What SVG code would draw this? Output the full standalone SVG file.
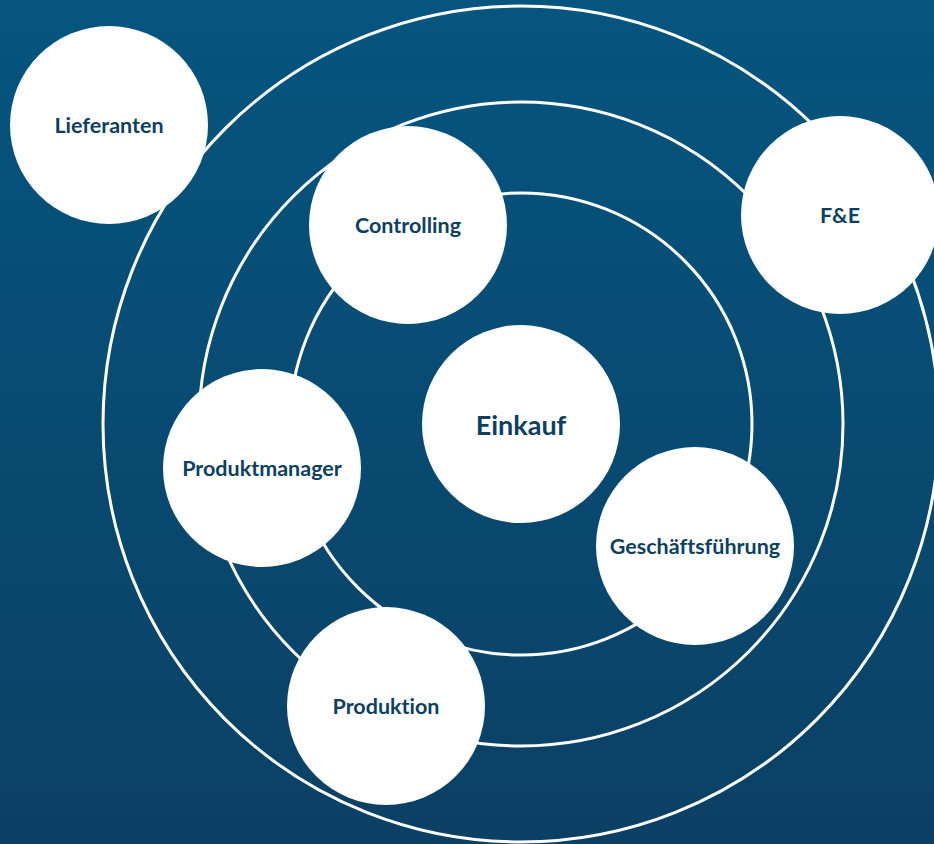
<svg xmlns="http://www.w3.org/2000/svg" width="934" height="844" viewBox="0 0 934 844">
<defs>
<linearGradient id="bg" x1="0" y1="0" x2="0" y2="1">
<stop offset="0" stop-color="#05557f"/>
<stop offset="1" stop-color="#0b4064"/>
</linearGradient>
</defs>
<style>
.ring{fill:none;stroke:#ffffff;stroke-width:3}
.node{fill:#ffffff}
.lbl{font-family:Lato,"Liberation Sans",sans-serif;font-weight:bold;font-size:21.5px;fill:#0d3f63;text-anchor:middle;dominant-baseline:central;font-variant-ligatures:none}
.big{font-size:27px}
</style>
<rect x="0" y="0" width="934" height="844" fill="url(#bg)"/>
<g id="connectors">
<circle class="ring" cx="521" cy="424" r="231"/>
<circle class="ring" cx="521" cy="424" r="322"/>
<circle class="ring" cx="521" cy="424" r="418"/>
</g>
<g id="lieferanten"><circle class="node" cx="109" cy="125" r="99"/><text class="lbl" x="109" y="125">Lieferanten</text></g>
<g id="controlling"><circle class="node" cx="408" cy="225" r="99"/><text class="lbl" x="408" y="225">Controlling</text></g>
<g id="fe"><circle class="node" cx="840" cy="215" r="99"/><text class="lbl" x="840" y="215">F&amp;E</text></g>
<g id="produktmanager"><circle class="node" cx="262" cy="468" r="99"/><text class="lbl" x="262" y="468">Produktmanager</text></g>
<g id="einkauf"><circle class="node" cx="521" cy="424" r="99"/><text class="lbl big" x="521" y="424">Einkauf</text></g>
<g id="geschaeftsfuehrung"><circle class="node" cx="695" cy="546" r="99"/><text class="lbl" x="695" y="546">Geschäftsführung</text></g>
<g id="produktion"><circle class="node" cx="386" cy="706" r="99"/><text class="lbl" x="386" y="706">Produktion</text></g>
</svg>
